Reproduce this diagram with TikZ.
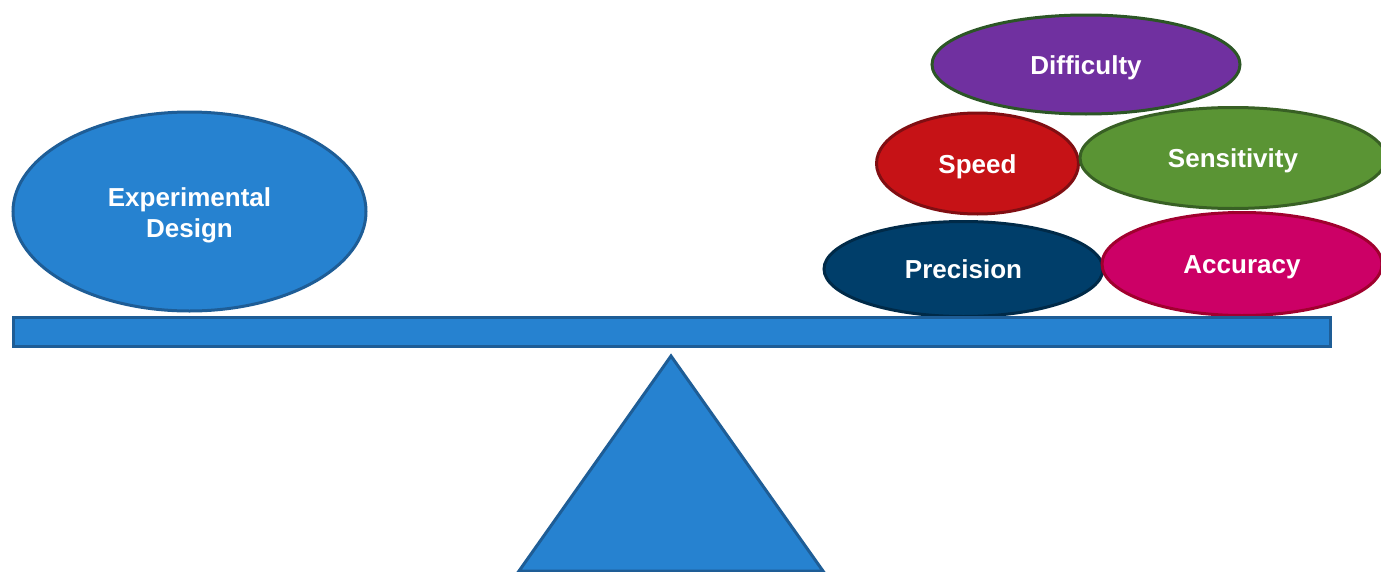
\documentclass[tikz,border=0pt]{standalone}
\usepackage{fontspec}
\setmainfont{Liberation Sans}
\usetikzlibrary{shapes.geometric}

\newdimen\pxu
\pxu=0.75pt

\definecolor{scaleblue}{RGB}{38,130,208}
\definecolor{scaleedge}{RGB}{30,93,150}
\definecolor{diffpurple}{RGB}{112,48,160}
\definecolor{diffedge}{RGB}{44,86,38}
\definecolor{speedred}{RGB}{198,18,22}
\definecolor{speededge}{RGB}{128,14,18}
\definecolor{sensgreen}{RGB}{90,148,52}
\definecolor{sensedge}{RGB}{56,96,36}
\definecolor{precnavy}{RGB}{0,62,106}
\definecolor{precedge}{RGB}{0,42,72}
\definecolor{accpink}{RGB}{204,0,102}
\definecolor{accedge}{RGB}{160,0,46}

\tikzset{
  weight/.style={ellipse, inner sep=0pt, line width=2.25pt, text=white,
    font=\fontsize{19.5}{23.5}\selectfont\bfseries, align=center,
    text height=18.5pt, text depth=4pt},
  plank/.style={rectangle, inner sep=0pt, line width=2.25pt,
    fill=scaleblue, draw=scaleedge}
}

\begin{document}
\begin{tikzpicture}[x=0.75pt, y=-0.75pt]
      \useasboundingbox (0,0) rectangle (1381,571);
      \clip (0,0) rectangle (1381,571);

      \node[weight, fill=diffpurple, draw=diffedge,
        minimum width=308\pxu, minimum height=99\pxu] (diff) at (1086,64.5) {Difficulty};
      \node[weight, fill=speedred, draw=speededge,
        minimum width=202\pxu, minimum height=101\pxu] (speed) at (977.5,163.5) {Speed};
      \node[weight, fill=sensgreen, draw=sensedge,
        minimum width=306\pxu, minimum height=101\pxu] (sens) at (1233,158) {Sensitivity};
      \node[weight, fill=precnavy, draw=precedge,
        minimum width=279\pxu, minimum height=95\pxu] (prec) at (963.5,269) {Precision};
      \node[weight, fill=accpink, draw=accedge,
        minimum width=280\pxu, minimum height=103\pxu] (acc) at (1242,264) {Accuracy};

      \node[weight, fill=scaleblue, draw=scaleedge, text height=43.5pt,
        minimum width=353\pxu, minimum height=199\pxu] (design) at (189.5,211.5) {Experimental\\Design};

      \node[plank, minimum width=1317\pxu, minimum height=29\pxu] (beam) at (671.5,331.5) {};

      \coordinate (apex) at (671,356);
      \coordinate (left) at (519,571);
      \coordinate (right) at (823,571);
      \draw[line width=2.25pt, line join=miter, fill=scaleblue, draw=scaleedge]
        (left) -- (apex) -- (right) -- cycle;

    \end{tikzpicture}
\end{document}
